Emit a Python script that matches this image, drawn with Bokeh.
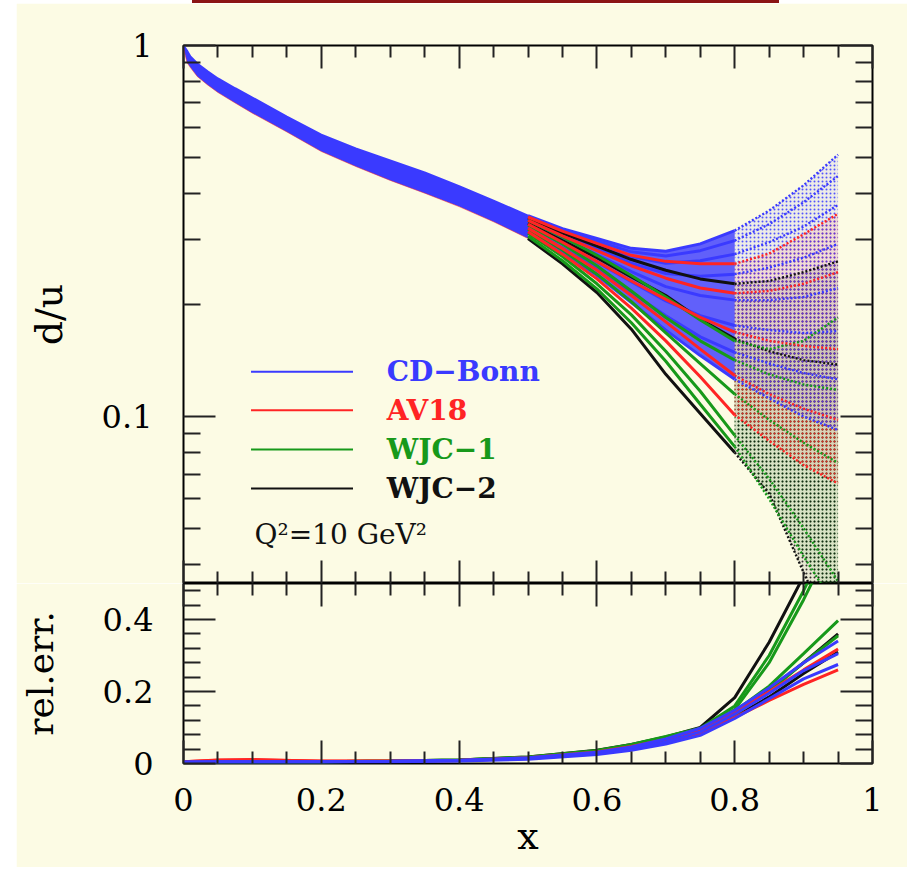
from bokeh.plotting import figure
from bokeh.models import Range1d, FixedTicker, LinearAxis, LogAxis, Label, Spacer, Div, CustomJSTickFormatter
from bokeh.layouts import column, row
from bokeh.embed import file_html
from bokeh.resources import INLINE
from bokeh.core.properties import value

CREAM = "#fcfbe4"
BLUE = "#3a3aff"
RED = "#ff2424"
GREEN = "#17991a"
BLACK = "#111111"
SERIF = "DejaVu Serif"

# ---------------- data: d/u (upper panel) ----------------
# common band (all models coincide) for x <= 0.5
X_LOW = [0.0, 0.005, 0.01, 0.02, 0.035, 0.05, 0.075, 0.1, 0.15, 0.2, 0.25, 0.3, 0.35, 0.4, 0.45, 0.5]
BAND_UPPER = [1.0, 0.969, 0.934, 0.894, 0.852, 0.815, 0.767, 0.724, 0.643, 0.575, 0.528, 0.490, 0.455, 0.418, 0.382, 0.348]
BAND_LOWER = [0.985, 0.900, 0.872, 0.825, 0.783, 0.747, 0.700, 0.657, 0.585, 0.518, 0.472, 0.433, 0.400, 0.368, 0.335, 0.302]

# individual fits for x >= 0.5 (solid up to 0.8, dotted beyond)
X_HIGH = [0.5, 0.55, 0.6, 0.65, 0.7, 0.75, 0.8, 0.85, 0.9, 0.95]

CDBONN_DU = [
    [0.348, 0.321, 0.302, 0.284, 0.279, 0.292, 0.317, 0.359, 0.420, 0.508],
    [0.346, 0.318, 0.297, 0.278, 0.271, 0.280, 0.298, 0.330, 0.378, 0.445],
    [0.343, 0.314, 0.291, 0.270, 0.259, 0.263, 0.274, 0.295, 0.325, 0.372],
    [0.339, 0.308, 0.283, 0.259, 0.243, 0.239, 0.242, 0.252, 0.268, 0.292],
    [0.334, 0.301, 0.273, 0.246, 0.224, 0.212, 0.206, 0.206, 0.210, 0.222],
    [0.329, 0.293, 0.261, 0.231, 0.205, 0.187, 0.176, 0.171, 0.168, 0.170],
    [0.323, 0.285, 0.251, 0.216, 0.187, 0.164, 0.149, 0.139, 0.131, 0.126],
    [0.316, 0.277, 0.240, 0.203, 0.171, 0.146, 0.126, 0.112, 0.100, 0.092],
]
AV18_DU = [
    [0.345, 0.316, 0.293, 0.272, 0.262, 0.258, 0.258, 0.275, 0.310, 0.352],
    [0.338, 0.307, 0.280, 0.255, 0.236, 0.222, 0.215, 0.218, 0.228, 0.245],
    [0.330, 0.295, 0.262, 0.232, 0.207, 0.185, 0.169, 0.160, 0.155, 0.152],
    [0.322, 0.284, 0.248, 0.212, 0.180, 0.152, 0.129, 0.115, 0.105, 0.098],
    [0.315, 0.274, 0.235, 0.196, 0.160, 0.128, 0.101, 0.086, 0.074, 0.066],
]
WJC1_DU = [
    [0.338, 0.305, 0.272, 0.240, 0.210, 0.182, 0.160, 0.152, 0.160, 0.185],
    [0.328, 0.292, 0.255, 0.218, 0.185, 0.160, 0.142, 0.130, 0.122, 0.118],
    [0.320, 0.281, 0.242, 0.204, 0.168, 0.139, 0.115, 0.098, 0.085, 0.075],
    [0.312, 0.270, 0.228, 0.188, 0.150, 0.117, 0.089, 0.068, 0.050, 0.036],
    [0.306, 0.263, 0.221, 0.179, 0.141, 0.108, 0.083, 0.060, 0.042, 0.030],
]
WJC2_DU = [
    [0.343, 0.312, 0.288, 0.265, 0.248, 0.235, 0.228, 0.232, 0.245, 0.262],
    [0.332, 0.298, 0.268, 0.238, 0.212, 0.183, 0.162, 0.150, 0.142, 0.138],
    [0.302, 0.258, 0.216, 0.172, 0.130, 0.102, 0.080, 0.062, 0.038, 0.024],
]

# ---------------- data: relative error (lower panel) ----------------
X_ERR = [0.0, 0.05, 0.1, 0.2, 0.3, 0.4, 0.5, 0.6, 0.65, 0.7, 0.75, 0.8, 0.85, 0.9, 0.95]
CDBONN_ERR = [
    [0.003, 0.004, 0.004, 0.004, 0.005, 0.007, 0.012, 0.025, 0.037, 0.054, 0.078, 0.125, 0.180, 0.235, 0.275],
    [0.004, 0.005, 0.005, 0.005, 0.006, 0.008, 0.014, 0.028, 0.041, 0.060, 0.088, 0.137, 0.195, 0.258, 0.305],
    [0.004, 0.005, 0.005, 0.005, 0.006, 0.009, 0.016, 0.031, 0.046, 0.068, 0.098, 0.148, 0.210, 0.280, 0.340],
]
AV18_ERR = [
    [0.005, 0.010, 0.011, 0.006, 0.006, 0.008, 0.014, 0.027, 0.040, 0.058, 0.083, 0.128, 0.175, 0.220, 0.260],
    [0.005, 0.009, 0.010, 0.007, 0.007, 0.009, 0.016, 0.032, 0.047, 0.067, 0.094, 0.142, 0.200, 0.260, 0.318],
]
WJC1_ERR = [
    [0.004, 0.005, 0.005, 0.005, 0.007, 0.010, 0.018, 0.036, 0.053, 0.075, 0.098, 0.160, 0.300, 0.480, 0.680],
    [0.004, 0.005, 0.005, 0.005, 0.007, 0.010, 0.017, 0.034, 0.050, 0.071, 0.094, 0.150, 0.280, 0.455, 0.650],
    [0.004, 0.005, 0.005, 0.005, 0.006, 0.009, 0.016, 0.033, 0.049, 0.070, 0.088, 0.145, 0.215, 0.305, 0.397],
    [0.004, 0.005, 0.005, 0.005, 0.006, 0.009, 0.016, 0.032, 0.047, 0.066, 0.085, 0.135, 0.200, 0.280, 0.355],
]
WJC2_ERR = [
    [0.004, 0.005, 0.005, 0.005, 0.007, 0.010, 0.018, 0.037, 0.053, 0.074, 0.100, 0.183, 0.337, 0.520, 0.750],
    [0.004, 0.005, 0.005, 0.005, 0.006, 0.009, 0.016, 0.032, 0.047, 0.067, 0.090, 0.140, 0.205, 0.280, 0.360],
    [0.004, 0.005, 0.005, 0.005, 0.006, 0.009, 0.015, 0.030, 0.044, 0.063, 0.086, 0.130, 0.185, 0.250, 0.310],
]

# ---------------- ticks / labels ----------------
X_TICKS = [0.0, 0.2, 0.4, 0.6, 0.8, 1.0]
X_TICK_LABELS = ["0", "0.2", "0.4", "0.6", "0.8", "1"]
X_MINOR = [0.05, 0.1, 0.15, 0.25, 0.3, 0.35, 0.45, 0.5, 0.55, 0.65, 0.7, 0.75, 0.85, 0.9, 0.95]
DU_TICKS = [0.1, 1.0]
DU_TICK_LABELS = ["0.1", "1"]
DU_MINOR = [0.04, 0.05, 0.06, 0.07, 0.08, 0.09, 0.2, 0.3, 0.4, 0.5, 0.6, 0.7, 0.8, 0.9]
ERR_TICKS = [0.0, 0.2, 0.4]
ERR_TICK_LABELS = ["0", "0.2", "0.4"]
ERR_MINOR = [0.04, 0.08, 0.12, 0.16, 0.24, 0.28, 0.32, 0.36, 0.44, 0.48]

MODELS = ["CD−Bonn", "AV18", "WJC−1", "WJC−2"]
MODEL_COLORS = [BLUE, RED, GREEN, BLACK]
DU_SETS = [CDBONN_DU, AV18_DU, WJC1_DU, WJC2_DU]
ERR_SETS = [CDBONN_ERR, AV18_ERR, WJC1_ERR, WJC2_ERR]
Q2_TEXT = "Q²=10 GeV²"

SOLID_END = X_HIGH.index(0.8)


def label_formatter(tvals, tlabels):
    return CustomJSTickFormatter(args=dict(tv=tvals, tl=tlabels), code="""
        for (let i = 0; i < tv.length; i++) {
            if (Math.abs(tick - tv[i]) < 1e-9) { return tl[i]; }
        }
        return '';
    """)


def style_ticks(ax, ticker, major_in, minor_in):
    ax.ticker = ticker
    ax.major_tick_in = major_in
    ax.major_tick_out = 0
    ax.minor_tick_in = minor_in
    ax.minor_tick_out = 0
    ax.major_tick_line_color = "#222222"
    ax.minor_tick_line_color = "#222222"
    ax.major_tick_line_width = 2
    ax.minor_tick_line_width = 2
    ax.axis_line_color = None


def tick_only(ax):
    ax.formatter = CustomJSTickFormatter(code="return '';")
    ax.major_label_text_font_size = "0px"
    ax.major_label_standoff = 0
    ax.axis_label = None


def label_axis(ax, tvals, tlabels, standoff):
    ax.formatter = label_formatter(tvals, tlabels)
    ax.major_label_text_font = SERIF
    ax.major_label_text_font_size = "32px"
    ax.major_label_text_color = "black"
    ax.major_label_standoff = standoff
    ax.axis_label_text_font = SERIF
    ax.axis_label_text_font_style = "normal"
    ax.axis_label_text_color = "black"


x_ticker = FixedTicker(ticks=X_TICKS, minor_ticks=X_MINOR)
du_ticker = FixedTicker(ticks=DU_TICKS, minor_ticks=DU_MINOR)
err_ticker = FixedTicker(ticks=ERR_TICKS, minor_ticks=ERR_MINOR)

W = 891
# ---------------- upper panel ----------------
p1 = figure(width=W, height=580, x_range=Range1d(0, 1), y_range=Range1d(0.0355, 1.0),
            y_axis_type="log", output_backend="svg", toolbar_location=None,
            background_fill_color=CREAM, border_fill_color=CREAM,
            outline_line_color="black", outline_line_width=2,
            min_border_left=165, min_border_right=35, min_border_top=42, min_border_bottom=0)
p1.grid.visible = False

style_ticks(p1.xaxis[0], x_ticker, 23, 12)
tick_only(p1.xaxis[0])
style_ticks(p1.yaxis[0], du_ticker, 32, 17)
label_axis(p1.yaxis[0], DU_TICKS, DU_TICK_LABELS, 31)
p1.yaxis[0].axis_label = "d/u"
p1.yaxis[0].axis_label_text_font_size = "38px"
p1.yaxis[0].axis_label_standoff = 28

top_ax = LinearAxis()
style_ticks(top_ax, x_ticker, 23, 12)
tick_only(top_ax)
p1.add_layout(top_ax, "above")
right_ax = LogAxis()
style_ticks(right_ax, du_ticker, 32, 17)
tick_only(right_ax)
p1.add_layout(right_ax, "right")

# dotted (x > 0.8) part: stippled bands + dotted curves
x_dot = X_HIGH[SOLID_END:]
for sets, col in zip([WJC1_DU, WJC2_DU, AV18_DU, CDBONN_DU], [GREEN, BLACK, RED, BLUE]):
    p1.varea(x=x_dot, y1=sets[0][SOLID_END:], y2=sets[-1][SOLID_END:],
             fill_color=col, fill_alpha=0.08, hatch_pattern="dot", hatch_color=col,
             hatch_scale=4, hatch_weight=2.4, hatch_alpha=0.85)
for sets, col in zip([CDBONN_DU, WJC2_DU, WJC1_DU, AV18_DU], [BLUE, BLACK, GREEN, RED]):
    for c in sets:
        p1.line(x_dot, c[SOLID_END:], line_color=col, line_width=2.4, line_dash="2 2")

# common low-x band
p1.varea(x=X_LOW, y1=BAND_LOWER, y2=BAND_UPPER, fill_color=BLUE)
p1.line(X_LOW, BAND_UPPER, line_color=BLUE, line_width=2)
p1.line(X_LOW, BAND_LOWER, line_color=RED, line_width=1, line_alpha=0.5)

# solid fan between 0.5 and 0.8
x_sol = X_HIGH[:SOLID_END + 1]
p1.varea(x=x_sol, y1=CDBONN_DU[-1][:SOLID_END + 1], y2=CDBONN_DU[0][:SOLID_END + 1],
         fill_color=BLUE, fill_alpha=0.8)
for sets, col in zip([CDBONN_DU, WJC2_DU, WJC1_DU, AV18_DU], [BLUE, BLACK, GREEN, RED]):
    for c in sets:
        p1.line(x_sol, c[:SOLID_END + 1], line_color=col, line_width=3)

# legend
LEG_X0, LEG_X1, LEG_TX = 0.098, 0.246, 0.295
LEG_Y = [0.132, 0.104, 0.0815, 0.064]
for name, col, yy in zip(MODELS, MODEL_COLORS, LEG_Y):
    p1.line([LEG_X0, LEG_X1], [yy, yy], line_color=col, line_width=2)
p1.text(x=[LEG_TX] * 4, y=LEG_Y, text=MODELS, text_color=MODEL_COLORS,
        text_font=value(SERIF), text_font_size=value("28px"), text_font_style="bold",
        text_baseline="middle", text_align="left")
p1.add_layout(Label(x=0.103, y=0.048, text=Q2_TEXT, text_font=SERIF, text_font_size="28px",
                    text_color="#111111", text_baseline="middle"))

# ---------------- lower panel ----------------
p2 = figure(width=W, height=284, x_range=Range1d(0, 1), y_range=Range1d(0, 0.5),
            output_backend="svg", toolbar_location=None,
            background_fill_color=CREAM, border_fill_color=CREAM,
            outline_line_color="black", outline_line_width=2,
            min_border_left=165, min_border_right=35, min_border_top=0, min_border_bottom=104)
p2.grid.visible = False

style_ticks(p2.xaxis[0], x_ticker, 23, 12)
label_axis(p2.xaxis[0], X_TICKS, X_TICK_LABELS, 24)
p2.xaxis[0].axis_label = "x"
p2.xaxis[0].axis_label_text_font_size = "38px"
p2.xaxis[0].axis_label_standoff = 0
style_ticks(p2.yaxis[0], err_ticker, 32, 17)
label_axis(p2.yaxis[0], ERR_TICKS, ERR_TICK_LABELS, 30)
p2.yaxis[0].axis_label = "rel.err."
p2.yaxis[0].axis_label_text_font_size = "36px"
p2.yaxis[0].axis_label_standoff = 39

top2 = LinearAxis()
style_ticks(top2, x_ticker, 23, 12)
tick_only(top2)
p2.add_layout(top2, "above")
right2 = LinearAxis()
style_ticks(right2, err_ticker, 32, 17)
tick_only(right2)
p2.add_layout(right2, "right")

for sets, col in zip([WJC2_ERR, WJC1_ERR, AV18_ERR, CDBONN_ERR], [BLACK, GREEN, RED, BLUE]):
    for c in sets:
        p2.line(X_ERR, c, line_color=col, line_width=3)

# slide decoration: dark red bar at the very top
bar = row(Spacer(width=176, height=3, margin=0),
          Div(text="", width=587, height=3, margin=0,
              styles={"background-color": "#8b1414", "overflow": "hidden", "line-height": "0"}))
layout = row(Spacer(width=16, height=867, margin=0), column(bar, p1, p2))
open("out.html", "w").write(file_html(layout, INLINE))
